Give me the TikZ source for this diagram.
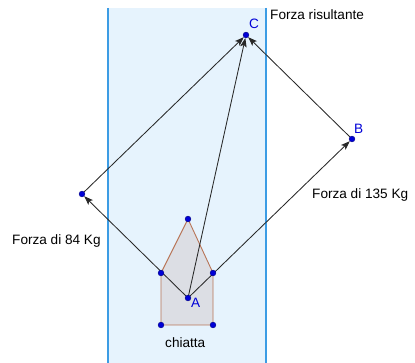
\documentclass[tikz,border=0pt]{standalone}
\usepackage{fontspec}
\setmainfont{Liberation Sans}
\usepackage{tikz}
\usetikzlibrary{arrows.meta,backgrounds}
\usepackage{xcolor}
\definecolor{canalfill}{RGB}{230,243,253}
\definecolor{canaledge}{RGB}{60,156,228}
\definecolor{boatfill}{RGB}{220,222,228}
\definecolor{boatedge}{RGB}{184,116,86}
\definecolor{ptblue}{RGB}{0,0,215}
\definecolor{vecgrey}{RGB}{40,40,40}

\begin{document}
\begin{tikzpicture}[
  x=1pt,y=-1pt,
  font=\fontsize{13.6}{16}\selectfont,
  vec/.style={-{Stealth[length=9pt,width=6.5pt,inset=2pt]},draw=vecgrey,line width=0.85pt},
  pt/.style={circle,fill=ptblue,draw=ptblue!60!black,line width=0.4pt,
             inner sep=0pt,minimum size=5.8pt},
  lbl/.style={anchor=base west,inner sep=0pt},
  ptlbl/.style={lbl,text=ptblue},
  canal/.style={fill=canalfill,draw=none},
  bank/.style={draw=canaledge,line width=1.4pt},
  boat/.style={fill=boatfill,draw=boatedge,line width=0.9pt}
]
\useasboundingbox (0,0) rectangle (415,363);
% points of the construction
\node[pt] (A) at (188,298) {};
\node[pt] (B) at (352,139) {};
\node[pt] (C) at (246,35) {};
\node[pt] (L) at (82,194) {};
% hull of the barge
\node[pt] (bow) at (188,219) {};
\node[pt] (portup) at (161,273) {};
\node[pt] (portdn) at (161,325) {};
\node[pt] (stbdn) at (213,325) {};
\node[pt] (stbup) at (213,273) {};
% canal banks
\coordinate (bankNW) at (108,8);
\coordinate (bankSW) at (108,363);
\coordinate (bankNE) at (266,8);
\coordinate (bankSE) at (266,363);

\begin{scope}[on background layer]
  \fill[canal] (bankNW) rectangle (bankSE);
  \draw[bank] (bankNW) -- (bankSW);
  \draw[bank] (bankNE) -- (bankSE);
  \draw[boat] (bow.center) -- (portup.center) -- (portdn.center)
    -- (stbdn.center) -- (stbup.center) -- cycle;
  % forces
  \draw[vec] (A.center) -- (L);
  \draw[vec] (A.center) -- (B);
  \draw[vec] (A.center) -- (C);
  \draw[vec] (L.center) -- (C);
  \draw[vec] (B.center) -- (C);
\end{scope}

% labels
\node[ptlbl] (labA) at (191,307.3) {A};
\node[ptlbl] (labB) at (354,134) {B};
\node[ptlbl] (labC) at (249,28.3) {C};
\node[lbl] (res) at (270,19.3) {Forza risultante};
\node[lbl] (f84) at (12,244.5) {Forza di 84 Kg};
\node[lbl] (f135) at (312,198.5) {Forza di 135 Kg};
\node[lbl] (barge) at (165,347.5) {chiatta};
\end{tikzpicture}
\end{document}
